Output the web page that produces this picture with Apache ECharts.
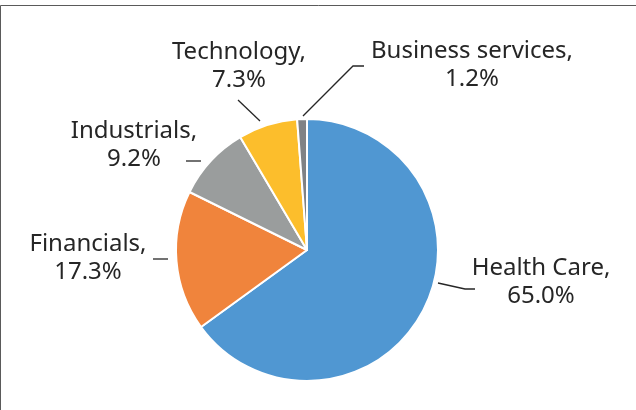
<!DOCTYPE html>
<html>
<head>
<meta charset="utf-8">
<style>
  html, body { margin: 0; padding: 0; background: #ffffff; }
  #chart { width: 636px; height: 410px; }
</style>
<script src="https://cdn.jsdelivr.net/npm/echarts@6/dist/echarts.min.js"></script>
</head>
<body>
<div id="chart"></div>
<script>
// Sector shares of the portfolio, clockwise from 12 o'clock
const sectors = ['Health Care', 'Financials', 'Industrials', 'Technology', 'Business services'];
const shares = [65.0, 17.3, 9.2, 7.3, 1.2];
const sectorColors = ['#5097D2', '#F0843C', '#9A9D9D', '#FCBE2C', '#808285'];

// Where each two-line label sits and how its leader line runs
const labelSpots = [
  { x: 541, y: 282, line: [[438, 283], [465, 289], [475, 289]] },
  { x: 88,  y: 258, line: [[168, 259], [153, 259]] },
  { x: 134, y: 145, line: [[201, 161], [186, 161]] },
  { x: 239, y: 66,  line: [[260, 121], [238, 100]] },
  { x: 472, y: 65,  line: [[303, 116], [353, 66], [364, 66]] }
];

const chart = echarts.init(document.getElementById('chart'), null, { renderer: 'canvas' });

chart.setOption({
  animation: false,
  backgroundColor: '#ffffff',
  graphic: [{
    type: 'rect',
    shape: { x: 0.5, y: 5.5, width: 700, height: 500 },
    style: { fill: 'none', stroke: '#5a5a5a', lineWidth: 1 },
    silent: true
  }],
  series: [{
    type: 'pie',
    center: [307, 250],
    radius: 131,
    startAngle: 90,
    clockwise: true,
    data: sectors.map((name, i) => ({
      name: name,
      value: shares[i],
      itemStyle: { color: sectorColors[i] }
    })),
    itemStyle: { borderColor: '#ffffff', borderWidth: 2 },
    label: {
      show: true,
      formatter: p => p.name + ',\n' + p.value.toFixed(1) + '%',
      fontFamily: 'Noto Sans',
      fontSize: 24,
      lineHeight: 28,
      color: '#262626',
      align: 'center',
      overflow: 'none'
    },
    labelLine: {
      show: true,
      lineStyle: { color: '#262626', width: 1.3 }
    },
    labelLayout: function (params) {
      const spot = labelSpots[params.dataIndex];
      return {
        x: spot.x,
        y: spot.y,
        align: 'center',
        verticalAlign: 'middle',
        labelLinePoints: spot.line
      };
    },
    emphasis: { disabled: true }
  }]
});
</script>
</body>
</html>
